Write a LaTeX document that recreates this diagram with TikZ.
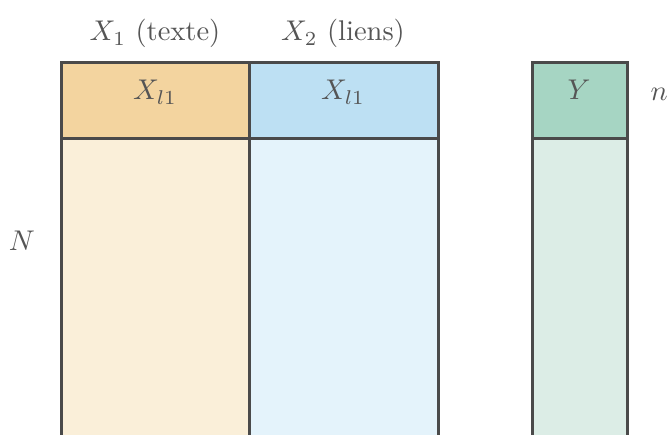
\documentclass[tikz,border=0pt]{standalone}
\usepackage{fontspec}
\definecolor{edge}{HTML}{4A4A4A}
\definecolor{txt}{HTML}{555555}
\definecolor{orH}{HTML}{F3D49F}
\definecolor{orB}{HTML}{FAEFD9}
\definecolor{blH}{HTML}{BDE0F3}
\definecolor{blB}{HTML}{E4F3FB}
\definecolor{grH}{HTML}{A6D5C3}
\definecolor{grB}{HTML}{DCEDE6}
\begin{document}
\begin{tikzpicture}[x=1pt,y=-1pt,
  cell/.style={draw=edge,line width=3pt,anchor=north west,inner sep=0pt,outer sep=0pt},
  lab/.style={text=txt,inner sep=0pt,font=\normalsize,scale=2.85,transform shape}]
\useasboundingbox (0,0) rectangle (669,435);
\clip (0,0) rectangle (669,435);
\node[cell,fill=orB,minimum width=188pt,minimum height=340pt] (b1) at (61,139) {};
\node[cell,fill=blB,minimum width=189pt,minimum height=340pt] (b2) at (249,139) {};
\node[cell,fill=grB,minimum width=95pt,minimum height=340pt] (b3) at (532,139) {};
\node[cell,fill=orH,minimum width=188pt,minimum height=76pt] (h1) at (61,63) {};
\node[cell,fill=blH,minimum width=189pt,minimum height=76pt] (h2) at (249,63) {};
\node[cell,fill=grH,minimum width=95pt,minimum height=76pt] (h3) at (532,63) {};
\node[lab,anchor=base] (x1) at (155,100) {$X_{l1}$};
\node[lab,anchor=base] (x2) at (343,100) {$X_{l1}$};
\node[lab,anchor=base] (y) at (579,100) {$Y$};
\node[lab,anchor=base] (t1) at (155,41) {$X_1$ (texte)};
\node[lab,anchor=base] (t2) at (343,41) {$X_2$ (liens)};
\node[lab,anchor=base west] (n) at (650,101) {$n$};
\node[lab,anchor=base] (N) at (22,251) {$N$};
\end{tikzpicture}
\end{document}
